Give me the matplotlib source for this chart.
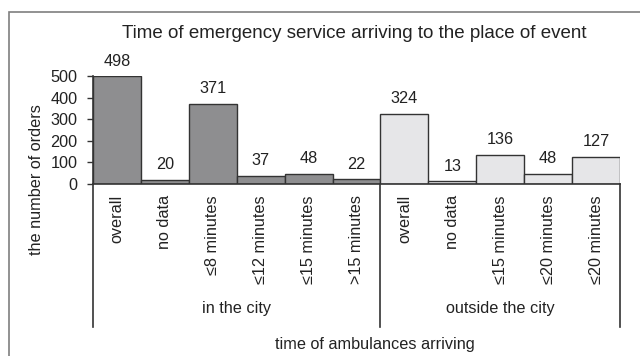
import matplotlib.pyplot as plt
import matplotlib.transforms as mtransforms
from matplotlib.patches import Rectangle

plt.rcParams['font.family'] = ['Liberation Sans', 'DejaVu Sans']

city_labels = ['overall', 'no data', '≤8 minutes', '≤12 minutes', '≤15 minutes', '>15 minutes']
city_values = [498, 20, 371, 37, 48, 22]
outside_labels = ['overall', 'no data', '≤15 minutes', '≤20 minutes', '≤20 minutes']
outside_values = [324, 13, 136, 48, 127]
groups = ['in the city', 'outside the city']

text_col = '#222222'
fs = 11.7

fig = plt.figure(figsize=(6.4, 3.56), dpi=100)
ax = fig.add_axes([93 / 640, 1 - 184 / 356, (620 - 93) / 640, (184 - 76) / 356])

# outer frame
fig.patches.append(Rectangle((9 / 640, -0.05), 1.1, 1 - 12 / 356 + 0.05,
                             transform=fig.transFigure, fill=False,
                             edgecolor='#7f7f7f', linewidth=1.2))

n_city = len(city_values)
x_city = list(range(n_city))
x_out = [n_city + i for i in range(len(outside_values))]

ax.bar(x_city, city_values, width=1.0, color='#8e8e90', edgecolor='#333333', linewidth=1)
ax.bar(x_out, outside_values, width=1.0, color='#e6e6e8', edgecolor='#333333', linewidth=1)

for x, v in zip(x_city + x_out, city_values + outside_values):
    ax.annotate(str(v), (x, v), xytext=(0, 5.5), textcoords='offset points',
                ha='center', va='bottom', fontsize=fs, color=text_col)

ax.set_xlim(-0.5, len(x_city + x_out) - 0.5)
ax.set_ylim(0, 500)
ax.set_yticks([0, 100, 200, 300, 400, 500])
ax.set_xticks(x_city + x_out)
ax.set_xticklabels(city_labels + outside_labels, rotation=90, fontsize=fs, color=text_col)
ax.tick_params(axis='x', length=0, pad=8)
ax.tick_params(axis='y', direction='out', length=4, width=1, pad=7,
               labelsize=fs, labelcolor=text_col, color='#333333')
for s in ['top', 'right']:
    ax.spines[s].set_visible(False)
for s in ['left', 'bottom']:
    ax.spines[s].set_color('#333333')
    ax.spines[s].set_linewidth(1.2)

# group separators and group labels
trans = mtransforms.blended_transform_factory(ax.transData, fig.transFigure)
for xs in [-0.5, n_city - 0.5, len(x_city + x_out) - 0.5]:
    ax.plot([xs, xs], [1 - 184 / 356, 1 - 327 / 356], transform=trans,
            color='#333333', linewidth=1.2, clip_on=False)
ax.text((n_city - 1) / 2, 1 - 308 / 356, groups[0], transform=trans,
        ha='center', va='center', fontsize=fs, color=text_col)
ax.text(n_city + (len(x_out) - 1) / 2, 1 - 308 / 356, groups[1], transform=trans,
        ha='center', va='center', fontsize=fs, color=text_col)

fig.text(354 / 640, 1 - 33 / 356, 'Time of emergency service arriving to the place of event',
         ha='center', va='center', fontsize=13.5, color=text_col)
fig.text(375 / 640, 1 - 345 / 356, 'time of ambulances arriving',
         ha='center', va='center', fontsize=fs, color=text_col)
fig.text(37 / 640, 1 - 180 / 356, 'the number of orders', rotation=90,
         ha='center', va='center', fontsize=fs, color=text_col)

fig.savefig('out.png', dpi=100)
